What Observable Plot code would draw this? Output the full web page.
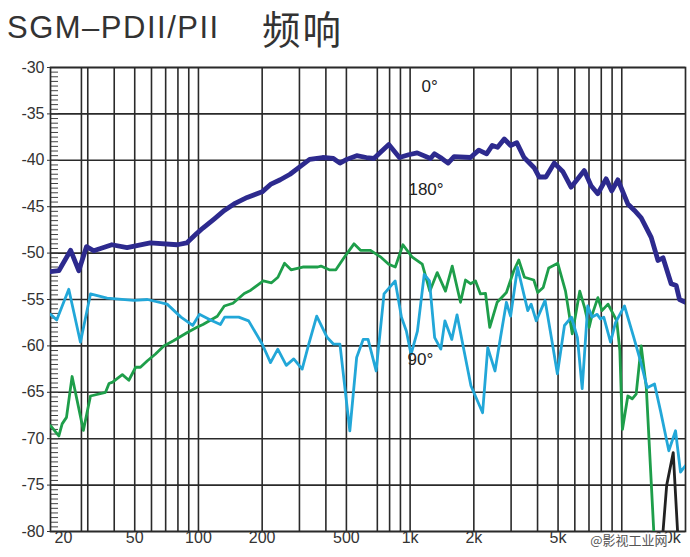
<!DOCTYPE html>
<html><head><meta charset="utf-8">
<script src="https://cdn.jsdelivr.net/npm/d3@7"></script>
<script src="https://cdn.jsdelivr.net/npm/@observablehq/plot@0.6"></script>
<style>
body{margin:0;background:#fff;}
#wrap{position:relative;width:690px;height:557px;overflow:hidden;background:#fff;}
#title{display:block;}
#chart svg{display:block;}
</style></head><body>
<div id="wrap">
<svg id="title" width="690" height="55">
  <text x="7" y="38" font-family="'Liberation Sans', Arial, sans-serif" font-size="31" fill="#333" letter-spacing="1.5">SGM–PDII/PII</text>
  <text x="262" y="44" font-family="'Noto Sans CJK SC', sans-serif" font-size="38.5" fill="#333" letter-spacing="2">频响</text>
</svg>
<div id="chart"></div>
</div>
<script>
// ---- data ----
const gridFreqs = [28, 30, 40, 50, 60, 70, 80, 90, 100, 200, 300, 400, 500, 700, 800, 900, 1000, 2000, 3000, 4000, 5000, 6000, 7000, 8000, 9000, 10000];
const yTicks = [-30, -35, -40, -45, -50, -55, -60, -65, -70, -75, -80];
const yMinor = d3.range(-80, -29.9, 0.5);
const xLabelFreqs = [20, 50, 100, 200, 500, 1000, 2000, 5000, 10000];
const xLabelTexts = ["20", "50", "100", "200", "500", "1k", "2k", "5k", "10k"];

// 0° (dark blue)
const f0 = [20, 21.9, 24.9, 27.2, 29.6, 32, 39, 46, 59.2, 79.4, 88, 98, 105, 118.9, 132.5, 147.3, 169.9, 200, 218.9, 243.5, 270.8, 301, 335, 386, 434, 466, 502, 559, 621, 674, 793, 890, 984, 1080, 1248, 1303, 1391, 1511, 1613, 1929, 2112, 2298, 2444, 2590, 2785, 2985, 3190, 3453, 3854, 4070, 4380, 4800, 5260, 5760, 6650, 7160, 7700, 8430, 8970, 9580, 10680, 11480, 12350, 13770, 14830, 15660, 17110, 18080, 18740, 20000];
const v0 = [-52.0, -51.9, -49.7, -51.9, -49.3, -49.75, -49.1, -49.4, -48.9, -49.1, -48.9, -47.9, -47.3, -46.3, -45.4, -44.7, -44.0, -43.4, -42.6, -42.1, -41.5, -40.7, -39.9, -39.7, -39.8, -40.3, -39.9, -39.5, -39.7, -39.8, -38.3, -39.7, -39.4, -39.2, -39.8, -39.3, -39.7, -40.3, -39.6, -39.7, -38.9, -39.3, -38.4, -38.6, -37.7, -38.4, -38.1, -39.7, -40.8, -41.8, -41.8, -40.3, -41.2, -42.9, -41.1, -42.75, -43.6, -42.0, -43.3, -42.1, -44.7, -45.4, -46.2, -48.3, -50.8, -50.5, -53.3, -53.5, -55.0, -55.3];

// 180° (green)
const f180 = [20, 21.9, 22.7, 23.8, 25.3, 28.6, 30.9, 36.4, 37.8, 39.3, 43.7, 46.9, 50.5, 53.2, 57.4, 62.5, 68.6, 76.2, 88.6, 98.4, 105, 122.8, 132.5, 145.6, 164.6, 176.7, 202.5, 221.4, 237.4, 255, 273.8, 311, 366, 379, 415, 446, 487, 543, 583, 650, 724, 792, 851, 925, 1020, 1141, 1239, 1343, 1469, 1581, 1730, 1827, 1929, 2037, 2149, 2271, 2378, 2577, 2851, 3088, 3260, 3468, 3839, 4009, 4255, 4518, 4985, 5422, 5834, 6330, 6680, 7010, 7250, 7710, 8060, 8610, 9470, 9790, 10070, 10680, 11200, 11690, 12350, 13060, 14200];
const v180 = [-68.6, -69.7, -68.4, -67.7, -63.3, -69.1, -65.4, -65.0, -64.05, -63.9, -63.1, -63.7, -62.3, -62.3, -61.6, -60.9, -60.0, -59.45, -58.55, -58.0, -57.7, -56.8, -55.7, -55.4, -54.35, -54.0, -53.0, -53.2, -52.6, -51.1, -51.8, -51.5, -51.5, -51.4, -51.8, -51.8, -50.5, -49.0, -49.7, -49.7, -50.4, -51.2, -51.5, -49.1, -50.4, -51.2, -54.1, -52.1, -54.1, -51.4, -55.3, -52.9, -53.3, -53.0, -54.4, -54.35, -58.0, -55.3, -54.25, -51.9, -50.75, -52.6, -52.9, -54.25, -53.7, -51.6, -51.1, -54.1, -58.7, -54.1, -55.9, -58.0, -56.6, -54.8, -56.2, -55.5, -57.3, -60.5, -69.0, -65.4, -65.7, -65.2, -60.0, -64.5, -80.5];

// 90° (light blue)
const f90 = [20, 21.4, 24.4, 27.7, 30.9, 37, 49.5, 57.4, 71.1, 82.7, 93.9, 101, 114, 127, 133, 155, 172.6, 200, 219, 237, 260, 282, 309, 332, 362, 406, 434, 466, 519, 559, 600, 633, 691, 753, 850, 910, 960, 1010, 1083, 1166, 1234, 1306, 1397, 1460, 1574, 1666, 1797, 1938, 2200, 2327, 2517, 2673, 2851, 2983, 3218, 3443, 3596, 3731, 3943, 4342, 4649, 4963, 5361, 5784, 6172, 6500, 6905, 7245, 7650, 7930, 8220, 8850, 9340, 10300, 11400, 12250, 13180, 14280, 15240, 16680, 17950, 18940, 20000];
const v90 = [-56.6, -57.2, -53.9, -59.6, -54.4, -54.85, -55.1, -55.0, -55.5, -56.9, -57.8, -56.6, -57.2, -57.7, -56.9, -56.9, -57.3, -59.8, -61.8, -60.35, -62.1, -61.4, -62.5, -59.8, -56.8, -59.1, -59.8, -59.8, -69.15, -61.25, -59.3, -59.3, -62.7, -54.4, -53.0, -56.9, -58.4, -60.9, -58.4, -52.3, -53.0, -59.1, -60.35, -57.3, -59.3, -56.65, -60.5, -64.3, -67.2, -60.2, -62.7, -59.1, -55.3, -56.8, -51.55, -54.4, -56.2, -55.5, -57.3, -55.1, -59.1, -63.0, -57.8, -56.9, -59.1, -64.6, -55.7, -56.9, -56.6, -57.1, -56.9, -59.6, -57.5, -55.7, -59.1, -61.6, -64.5, -64.1, -67.0, -71.3, -69.15, -73.6, -72.9];

// black trace near 20k
const fBlack = [15600, 16300, 17500, 18400];
const vBlack = [-80.5, -75.0, -71.5, -80.5];

const annotF = [1131, 982, 972];
const annotV = [-32.1, -43.1, -61.5];
const annotT = ["0°", "180°", "90°"];

// ---- tables built from the arrays ----
const toRows = (fs, vs) => fs.map((f, i) => ({f, v: vs[i]}));
const s0 = toRows(f0, v0);
const s180 = toRows(f180, v180);
const s90 = toRows(f90, v90);
const sBlack = toRows(fBlack, vBlack);
const xLabels = xLabelFreqs.map((f, i) => ({f, t: xLabelTexts[i]}));
const annot = annotF.map((f, i) => ({f, v: annotV[i], t: annotT[i]}));

const font = "'Liberation Sans', Arial, sans-serif";

const chart = Plot.plot({
  width: 690,
  height: 502,
  marginLeft: 50,
  marginRight: 5,
  marginTop: 12,
  marginBottom: 26,
  x: {type: "log", domain: [20, 20000], axis: null},
  y: {domain: [-80, -30], axis: null},
  style: {fontFamily: font, color: "#333", background: "transparent", overflow: "visible"},
  marks: [
    Plot.ruleX(gridFreqs, {stroke: "#2a2a2a", strokeWidth: 1.6}),
    Plot.ruleY(yTicks, {stroke: "#2a2a2a", strokeWidth: 1.6}),
    Plot.tickY(yMinor, {stroke: "#444", strokeWidth: 1, insetRight: 627}),
    Plot.frame({stroke: "#2a2a2a", strokeWidth: 1.7}),
    Plot.axisY(yTicks, {label: null, tickSize: 3, tickPadding: 3, fontSize: 16, tickFormat: d => String(d), stroke: "#333"}),
    Plot.text(xLabels.filter(d => d.f > 20 && d.f < 10000), {x: "f", text: "t", frameAnchor: "bottom", dy: 11, fontSize: 16, fill: "#333"}),
    Plot.text(xLabels.filter(d => d.f === 20), {x: "f", text: "t", frameAnchor: "bottom", dy: 11, dx: 13, fontSize: 16, fill: "#333"}),
    Plot.text(xLabels.filter(d => d.f === 10000), {x: "f", text: "t", frameAnchor: "bottom", dy: 11, dx: 46, fontSize: 16, fill: "#333"}),
    Plot.line(s180, {x: "f", y: "v", stroke: "#1e9e4a", strokeWidth: 2.8, clip: true}),
    Plot.line(s90, {x: "f", y: "v", stroke: "#22a7d8", strokeWidth: 2.8, clip: true}),
    Plot.line(sBlack, {x: "f", y: "v", stroke: "#222", strokeWidth: 2.8, clip: true}),
    Plot.line(s0, {x: "f", y: "v", stroke: "#2d2a8e", strokeWidth: 4.8, clip: true}),
    Plot.text(annot, {x: "f", y: "v", text: "t", textAnchor: "start", fontSize: 17, fill: "#222"}),
    Plot.text(["@影视工业网"], {frameAnchor: "bottom-right", textAnchor: "end", dx: -18, dy: 13, fontSize: 13, fill: "#555", stroke: "white", strokeWidth: 3, paintOrder: "stroke", fontFamily: "'Noto Sans CJK SC', sans-serif"})
  ]
});
document.getElementById("chart").appendChild(chart);
</script>
</body></html>
